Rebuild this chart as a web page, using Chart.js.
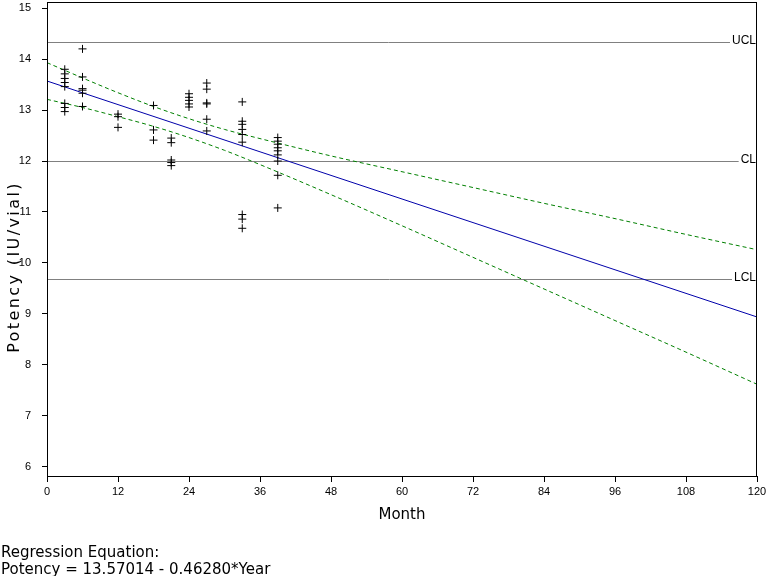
<!DOCTYPE html>
<html>
<head>
<meta charset="utf-8">
<script src="https://cdn.jsdelivr.net/npm/chart.js@4"></script>
<style>
  body { margin: 0; background: #fff; overflow: hidden; }
  #wrap { position: relative; width: 768px; height: 576px; overflow: hidden; }
  #c { position: absolute; left: 0; top: -3px; }
  #eq { position: absolute; left: 1px; top: 544px; font: 15px/17px "DejaVu Sans", sans-serif; color: #000; white-space: nowrap; }
</style>
</head>
<body>
<div id="wrap">
  <canvas id="c" width="768" height="579"></canvas>
  <div id="eq">Regression Equation:<br>Potency = 13.57014 - 0.46280*Year</div>
</div>
<script>
// test points (month) and the potency values read at each one
const months = [3, 6, 12, 18, 21, 24, 27, 33, 39];
const potencyByMonth = [
  [13.80, 13.71, 13.62, 13.54, 13.46, 13.13, 13.05, 12.97],
  [14.20, 13.65, 13.42, 13.39, 13.33, 13.07],
  [12.92, 12.87, 12.66],
  [13.09, 12.61, 12.41],
  [12.45, 12.36, 12.02, 11.97, 11.91],
  [13.32, 13.25, 13.19, 13.12, 13.06],
  [13.53, 13.41, 13.14, 13.12, 12.82, 12.59],
  [13.16, 12.78, 12.72, 12.62, 12.52, 12.37, 10.95, 10.86, 10.68],
  [12.46, 12.39, 12.33, 12.26, 12.20, 12.12, 12.00, 11.72, 11.08]
];

// fitted line
const fitMonths = [0, 120];
const fitPotency = [13.57, 8.94];

// 95% band
const bandMonths = [0, 6, 12, 18, 24, 30, 36, 48, 60, 72, 84, 96, 108, 120];
const upperBand = [13.93, 13.63, 13.34, 13.07, 12.83, 12.62, 12.44, 12.10, 11.79, 11.48, 11.17, 10.87, 10.56, 10.26];
const lowerBand = [13.21, 13.05, 12.87, 12.68, 12.46, 12.21, 11.93, 11.34, 10.73, 10.11, 9.49, 8.87, 8.25, 7.62];

// control limits
const limitLabels = ['UCL', 'CL', 'LCL'];
const limitValues = [14.33, 12.0, 9.68];

const xTicks = [0, 12, 24, 36, 48, 60, 72, 84, 96, 108, 120];
const yTicks = [6, 7, 8, 9, 10, 11, 12, 13, 14, 15];
const yTitle = 'Potency (IU/vial)';

const points = months.flatMap((m, i) => potencyByMonth[i].map(v => ({ x: m, y: v })));
const toXY = (xs, ys) => xs.map((x, i) => ({ x: x, y: ys[i] }));

const tickFont = { family: '"Liberation Sans Narrow", "Liberation Sans", sans-serif', size: 11 };

// control limit lines with their labels at the right end
const limitPlugin = {
  id: 'limits',
  beforeDatasetsDraw(chart) {
    const { ctx, chartArea, scales } = chart;
    ctx.save();
    ctx.font = '12px "Liberation Sans", sans-serif';
    ctx.textAlign = 'right';
    ctx.textBaseline = 'alphabetic';
    limitValues.forEach((v, i) => {
      const py = Math.round(scales.y.getPixelForValue(v)) + 0.5;
      const tw = ctx.measureText(limitLabels[i]).width;
      ctx.strokeStyle = '#808080';
      ctx.lineWidth = 1;
      ctx.beginPath();
      ctx.moveTo(chartArea.left, py);
      ctx.lineTo(chartArea.right - tw - 3, py);
      ctx.stroke();
      ctx.fillStyle = '#000';
      ctx.fillText(limitLabels[i], chartArea.right - 1, py + 1);
    });
    ctx.restore();
  },
  afterDraw(chart) {
    const { ctx, chartArea } = chart;
    ctx.save();
    // frame
    ctx.strokeStyle = '#000';
    ctx.lineWidth = 1;
    ctx.strokeRect(chartArea.left + 0.5, chartArea.top + 0.5,
      chartArea.right - chartArea.left - 1, chartArea.bottom - chartArea.top);
    // y title, spaced out like the original
    ctx.font = '16px "DejaVu Sans", sans-serif';
    ctx.letterSpacing = '2.4px';
    ctx.fillStyle = '#000';
    ctx.textAlign = 'center';
    ctx.textBaseline = 'middle';
    ctx.translate(15, 270);
    ctx.rotate(-Math.PI / 2);
    ctx.fillText(yTitle, 0, 0);
    ctx.restore();
  }
};

new Chart(document.getElementById('c'), {
  type: 'line',
  data: {
    datasets: [
      {
        type: 'scatter',
        data: points,
        pointStyle: 'cross',
        pointRadius: 4,
        pointBorderWidth: 1,
        borderColor: '#000',
        backgroundColor: '#000'
      },
      {
        data: toXY(fitMonths, fitPotency),
        borderColor: '#0000aa',
        borderWidth: 1,
        pointRadius: 0
      },
      {
        data: toXY(bandMonths, upperBand),
        borderColor: '#008000',
        borderWidth: 1,
        borderDash: [4, 3],
        pointRadius: 0,
        cubicInterpolationMode: 'monotone'
      },
      {
        data: toXY(bandMonths, lowerBand),
        borderColor: '#008000',
        borderWidth: 1,
        borderDash: [4, 3],
        pointRadius: 0,
        cubicInterpolationMode: 'monotone'
      }
    ]
  },
  options: {
    responsive: false,
    animation: false,
    devicePixelRatio: 1,
    layout: { padding: { left: 0, top: 1, right: 11, bottom: 46 } },
    plugins: {
      legend: { display: false },
      tooltip: { enabled: false }
    },
    scales: {
      x: {
        type: 'linear',
        min: 0,
        max: 120,
        afterBuildTicks: s => { s.ticks = xTicks.map(v => ({ value: v })); },
        afterFit: s => { s.height = 54; s.paddingLeft = 0; s.paddingRight = 0; },
        grid: { drawOnChartArea: false, tickLength: 6, color: '#000' },
        border: { color: '#000' },
        ticks: { font: tickFont, color: '#000', padding: 3, maxRotation: 0, autoSkip: false },
        title: {
          display: true,
          text: 'Month',
          color: '#000',
          font: { family: '"DejaVu Sans", sans-serif', size: 15 },
          padding: { top: 0, bottom: 6 }
        }
      },
      y: {
        type: 'linear',
        min: 5.82,
        max: 15.12,
        afterBuildTicks: s => { s.ticks = yTicks.map(v => ({ value: v })); },
        afterFit: s => { s.width = 47; s.paddingTop = 0; s.paddingBottom = 0; },
        grid: { drawOnChartArea: false, tickLength: 5, color: '#000' },
        border: { color: '#000' },
        ticks: { font: tickFont, color: '#000', padding: 11 }
      }
    }
  },
  plugins: [limitPlugin]
});
</script>
</body>
</html>
